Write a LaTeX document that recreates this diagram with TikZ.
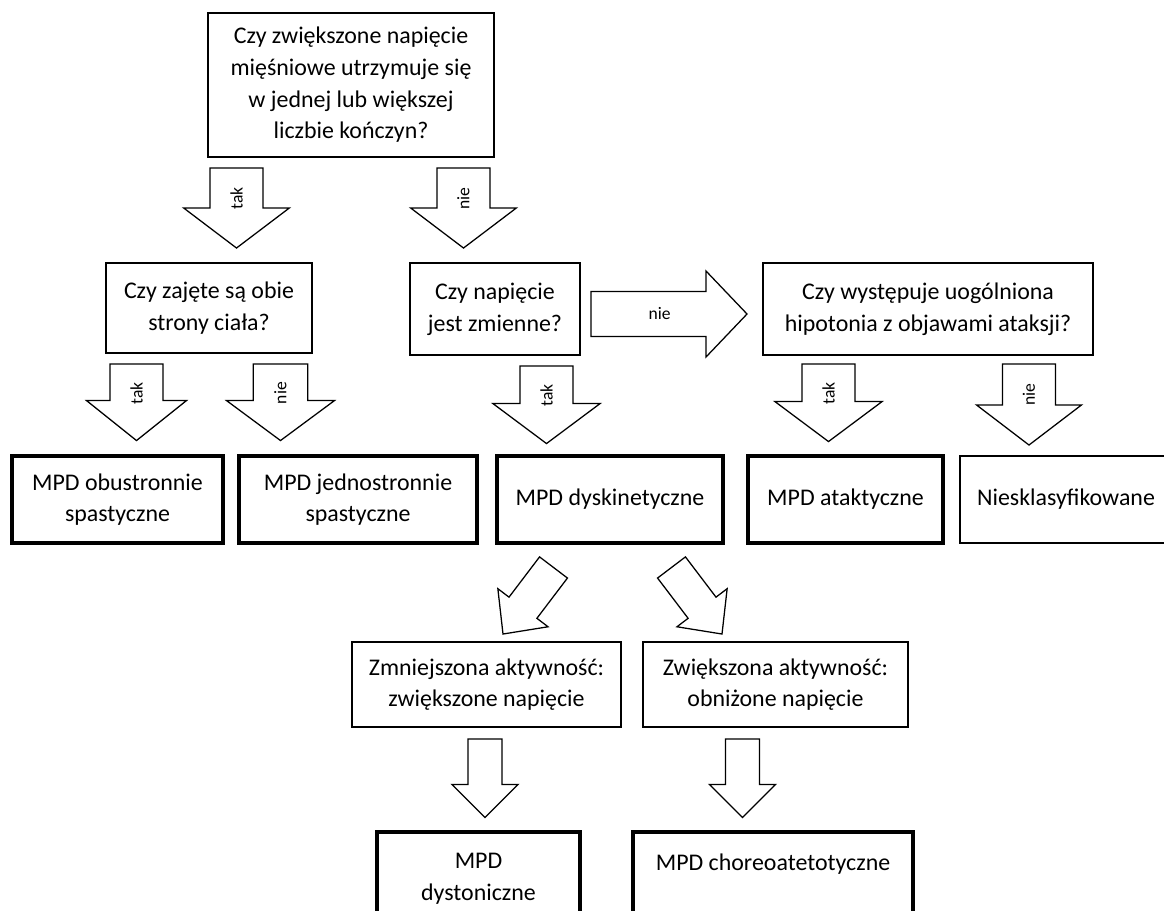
\documentclass[tikz,border=0pt]{standalone}
\usepackage{fontspec}
\setmainfont{Carlito}
\usetikzlibrary{calc}

% block arrow: [label opts]{tail}{tip}{shaft half}{head half}{head length}{label}
\newcommand{\blockarrow}[7][]{%
  \coordinate (hb) at ($(#3)!#6!(#2)$);
  \draw[arrowline] ($(#2)!#4!-90:(#3)$) -- ($(hb)!#4!-90:(#3)$) -- ($(hb)!#5!-90:(#3)$)
    -- (#3) -- ($(hb)!#5!90:(#3)$) -- ($(hb)!#4!90:(#3)$) -- ($(#2)!#4!90:(#3)$) -- cycle;
  \path (#2) -- (#3) node[lbl,#1]{#7};
}

\begin{document}
\begin{tikzpicture}[x=0.025cm,y=-0.025cm,
  boxsize/.style 2 args={minimum width=#1*0.025cm,minimum height=#2*0.025cm},
  qbox/.style={draw,line width=1.4pt,align=center,inner sep=2pt,
    font=\fontsize{17}{22.5}\selectfont},
  rbox/.style={qbox,line width=3.5pt},
  arrowline/.style={draw,line width=0.9pt,line join=miter,fill=white},
  lbl/.style={pos=0.38,font=\fontsize{12.5}{14}\selectfont,inner sep=0pt}]
  \useasboundingbox (0,0) rectangle (1164,910);
  % ===== pytania =====
  \node[qbox,boxsize={286}{144}] (q1) at (351,85)
    {Czy zwiększone napięcie\\mięśniowe utrzymuje się\\w jednej lub większej\\liczbie kończyn?};
  \node[qbox,boxsize={206}{90}] (q2) at (209,308) {Czy zajęte są obie\\strony ciała?};
  \node[qbox,boxsize={170}{92}] (q3) at (495,309) {Czy napięcie\\jest zmienne?};
  \node[qbox,boxsize={330}{92}] (q4) at (928,309)
    {Czy występuje uogólniona\\hipotonia z objawami ataksji?};
  % ===== typy MPD =====
  \node[rbox,boxsize={211}{87}] (r1) at (117.5,499.5) {MPD obustronnie\\spastyczne};
  \node[rbox,boxsize={238}{87}] (r2) at (358,499.5) {MPD jednostronnie\\spastyczne};
  \node[rbox,boxsize={226}{87}] (r3) at (610,499.5) {MPD dyskinetyczne};
  \node[rbox,boxsize={195}{87}] (r4) at (845.5,499.5) {MPD ataktyczne};
  \node[qbox,boxsize={212}{87}] (r5) at (1066,499.5) {Niesklasyfikowane};
  % ===== podtypy dyskinetyczne =====
  \node[qbox,boxsize={269}{85}] (s1) at (486.5,684.5) {Zmniejszona aktywność:\\zwiększone napięcie};
  \node[qbox,boxsize={265}{85}] (s2) at (775.5,684.5) {Zwiększona aktywność:\\obniżone napięcie};
  \node[rbox,boxsize={203}{93}] (t1) at (478.5,878.5) {MPD\\dystoniczne};
  \node[rbox,boxsize={280}{93}] (t2) at (773,878.5) {MPD choreoatetotyczne\\~};
  % ===== strzałki =====
  \coordinate (a1t) at ($(q1.south)+(-114.5,10)$);
  \coordinate (a1p) at ($(q2.north)+(27.5,-14)$);
  \coordinate (a2t) at ($(q1.south)+(112.5,10)$);
  \coordinate (a2p) at ($(q3.north)+(-31.5,-14)$);
  \coordinate (ht) at ($(q3.east)+(10,5)$);
  \coordinate (hp) at ($(q4.west)+(-15,5)$);
  \coordinate (b1t) at ($(q2.south)+(-72.5,10)$);
  \coordinate (b1p) at ($(r1.north)+(19,-13)$);
  \coordinate (b2t) at ($(q2.south)+(71.5,10)$);
  \coordinate (b2p) at ($(r2.north)+(-77.5,-13)$);
  \coordinate (b3t) at ($(q3.south)+(51.5,10)$);
  \coordinate (b3p) at ($(r3.north)+(-63.5,-10)$);
  \coordinate (b4t) at ($(q4.south)+(-99.5,8)$);
  \coordinate (b4p) at ($(r4.north)+(-17,-12)$);
  \coordinate (b5t) at ($(q4.south)+(101,8)$);
  \coordinate (b5p) at ($(r5.north)+(-37,-10)$);
  \coordinate (d1t) at ($(r3.south)+(-56.5,22)$);
  \coordinate (d1p) at ($(s1.north)+(16.5,-7)$);
  \coordinate (d2t) at ($(r3.south)+(61.5,22)$);
  \coordinate (d2p) at ($(s2.north)+(-53.5,-7)$);
  \coordinate (c1t) at ($(s1.south)+(-1.5,11)$);
  \coordinate (c1p) at ($(t1.north)+(6.5,-12)$);
  \coordinate (c2t) at ($(s2.south)+(-33,11)$);
  \coordinate (c2p) at ($(t2.north)+(-30.5,-12)$);
  \blockarrow[rotate=90]{a1t}{a1p}{0.66cm}{1.32cm}{1.0cm}{tak}
  \blockarrow[rotate=90]{a2t}{a2p}{0.66cm}{1.32cm}{1.0cm}{nie}
  \blockarrow[pos=0.44]{ht}{hp}{0.5625cm}{1.075cm}{1.025cm}{nie}
  \blockarrow[rotate=90]{b1t}{b1p}{0.66cm}{1.25cm}{1.0cm}{tak}
  \blockarrow[rotate=90]{b2t}{b2p}{0.68cm}{1.35cm}{1.0cm}{nie}
  \blockarrow[rotate=90]{b3t}{b3p}{0.66cm}{1.34cm}{1.0cm}{tak}
  \blockarrow[rotate=90]{b4t}{b4p}{0.66cm}{1.34cm}{1.0cm}{tak}
  \blockarrow[rotate=90]{b5t}{b5p}{0.66cm}{1.31cm}{1.0cm}{nie}
  \blockarrow{d1t}{d1p}{0.4375cm}{0.7875cm}{0.825cm}{}
  \blockarrow{d2t}{d2p}{0.4375cm}{0.7875cm}{0.825cm}{}
  \blockarrow{c1t}{c1p}{0.425cm}{0.825cm}{0.825cm}{}
  \blockarrow{c2t}{c2p}{0.425cm}{0.825cm}{0.825cm}{}
\end{tikzpicture}
\end{document}
